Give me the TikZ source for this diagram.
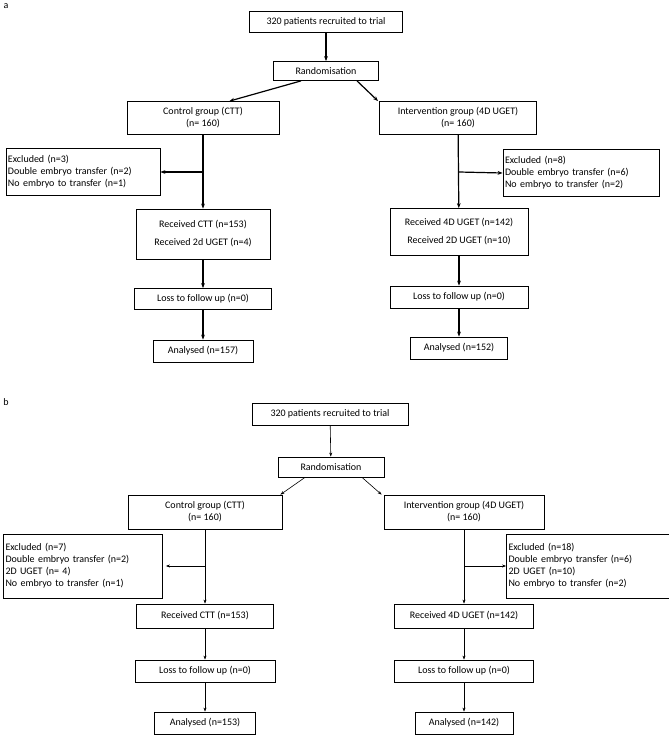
\documentclass[tikz,border=0pt]{standalone}
\usepackage{fontspec}
\setmainfont{Carlito}
\usetikzlibrary{arrows.meta}
\tikzset{
  box/.style={draw, thick, rectangle, inner sep=2pt, align=center, font=\fontsize{10}{12}\selectfont},
  exbox/.style={box, align=left, text width=#1},
  link/.style={-{Stealth[length=5pt]}, line width=1.2pt},
  linkb/.style={-{Stealth[length=4pt]}, semithick},
}
\begin{document}
\begin{tikzpicture}[x=1pt, y=-1pt]
  \useasboundingbox (0,0) rectangle (669,736);
  \node at (6,6) {a};
  % panel a
  \node[box, minimum width=153, minimum height=21] (topA) at (326,22) {320 patients recruited to trial};
  \node[box, minimum width=105, minimum height=19] (randA) at (326,71) {Randomisation};
  \node[box, minimum width=152, minimum height=33] (ctlA) at (203,118) {Control group (CTT)\\(n= 160)};
  \node[box, minimum width=157, minimum height=33] (intA) at (458,118) {Intervention group (4D UGET)\\(n= 160)};
  \node[exbox=150, minimum height=47] (exLA) at (83,172) {Excluded (n=3)\\Double embryo transfer (n=2)\\No embryo to transfer (n=1)};
  \node[exbox=152, minimum height=47] (exRA) at (581,173) {Excluded (n=8)\\Double embryo transfer (n=6)\\No embryo to transfer (n=2)};
  \node[box, minimum width=134, minimum height=50] (recLA) at (203,234) {Received CTT (n=153)\\[6pt]Received 2d UGET (n=4)};
  \node[box, minimum width=138, minimum height=47] (recRA) at (459,232) {Received 4D UGET (n=142)\\[6pt]Received 2D UGET (n=10)};
  \node[box, minimum width=137, minimum height=21] (lossLA) at (203,299) {Loss to follow up (n=0)};
  \node[box, minimum width=138, minimum height=22] (lossRA) at (459,297) {Loss to follow up (n=0)};
  \node[box, minimum width=100, minimum height=22] (anLA) at (203,351) {Analysed (n=157)};
  \node[box, minimum width=97, minimum height=22] (anRA) at (459,348) {Analysed (n=152)};
  \coordinate (brLA) at (203,172);
  \coordinate (brRA) at (459,172);
  \draw[link] (topA) -- (randA);
  \draw[link] ([xshift=-25]randA.south) -- ([xshift=-50]ctlA.north east);
  \draw[link] ([xshift=31]randA.south) -- ([xshift=-1]intA.north west);
  \draw[link] (ctlA) -- (recLA);
  \draw[link] (intA) -- (recRA);
  \draw[link] (brLA) -- (exLA.east);
  \draw[link] (brRA) -- (exRA.west);
  \draw[link] (recLA) -- (lossLA);
  \draw[link] (recRA) -- (lossRA);
  \draw[link] (lossLA) -- (anLA);
  \draw[link] (lossRA) -- (anRA);
  % panel b
  \node at (6,402) {b};
  \node[box, minimum width=156, minimum height=22] (topB) at (330,414) {320 patients recruited to trial};
  \node[box, minimum width=106, minimum height=20] (randB) at (331,467) {Randomisation};
  \node[box, minimum width=154, minimum height=34] (ctlB) at (205,512) {Control group (CTT)\\(n= 160)};
  \node[box, minimum width=160, minimum height=34] (intB) at (464,512) {Intervention group (4D UGET)\\(n= 160)};
  \node[exbox=155, minimum height=64] (exLB) at (83,566) {Excluded (n=7)\\Double embryo transfer (n=2)\\2D UGET (n= 4)\\No embryo to transfer (n=1)};
  \node[exbox=159, minimum height=64] (exRB) at (588,566) {Excluded (n=18)\\Double embryo transfer (n=6)\\2D UGET (n=10)\\No embryo to transfer (n=2)};
  \node[box, minimum width=137, minimum height=24] (recLB) at (205,616) {Received CTT (n=153)};
  \node[box, minimum width=139, minimum height=24] (recRB) at (464,616) {Received 4D UGET (n=142)};
  \node[box, minimum width=140, minimum height=22] (lossLB) at (205,671) {Loss to follow up (n=0)};
  \node[box, minimum width=139, minimum height=22] (lossRB) at (464,671) {Loss to follow up (n=0)};
  \node[box, minimum width=101, minimum height=22] (anLB) at (205,723) {Analysed (n=153)};
  \node[box, minimum width=98, minimum height=22] (anRB) at (464,723) {Analysed (n=142)};
  \coordinate (brLB) at (205,566);
  \coordinate (brRB) at (464,566);
  \draw[linkb] (topB) -- (randB);
  \draw[linkb] ([xshift=-26]randB.south) -- ([xshift=-2]ctlB.north east);
  \draw[linkb] ([xshift=31]randB.south) -- ([xshift=-2]intB.north west);
  \draw[linkb] (ctlB) -- (recLB);
  \draw[linkb] (intB) -- (recRB);
  \draw[linkb] (brLB) -- ([xshift=3]exLB.east);
  \draw[linkb] (brRB) -- (exRB.west);
  \draw[linkb] (recLB) -- (lossLB);
  \draw[linkb] (recRB) -- (lossRB);
  \draw[linkb] (lossLB) -- (anLB);
  \draw[linkb] (lossRB) -- (anRB);
\end{tikzpicture}
\end{document}
